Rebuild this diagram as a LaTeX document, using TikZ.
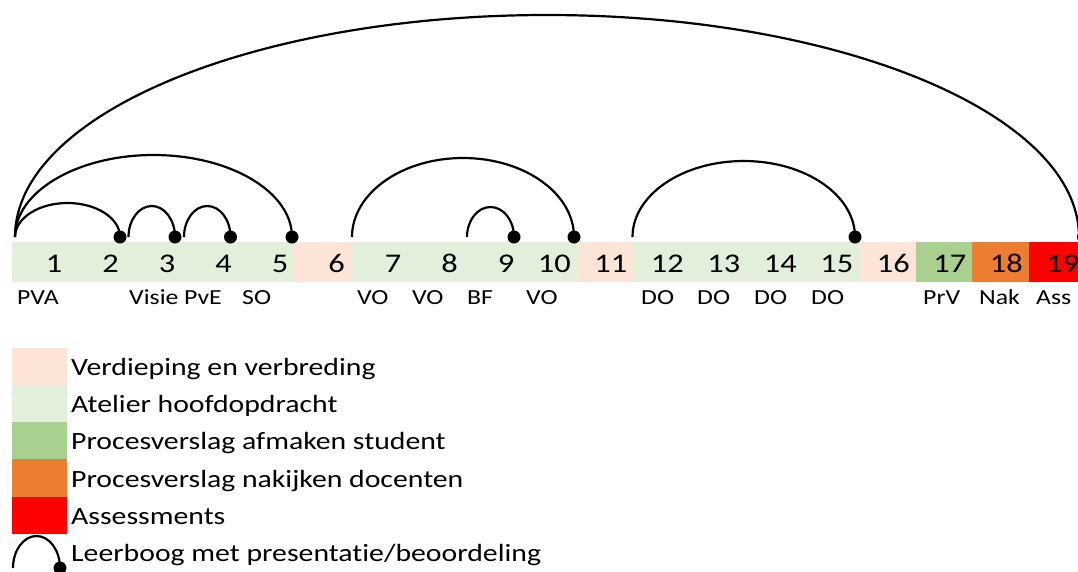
\documentclass[tikz,border=0pt]{standalone}
\usepackage{fontspec}
\setmainfont[FakeStretch=1.2, Ligatures=NoCommon]{Carlito}
\usetikzlibrary{calc}
\definecolor{verd}{HTML}{FCE4D6}
\definecolor{atel}{HTML}{E2EFDA}
\definecolor{afmk}{HTML}{A9D08E}
\definecolor{nakk}{HTML}{ED7D31}
\definecolor{asss}{HTML}{FF0000}
\tikzset{
  cell/.style={rectangle, inner sep=0pt, minimum width=57pt, minimum height=40pt, draw=none},
  numtxt/.style={inner sep=0pt, font=\fontsize{27}{30}\selectfont},
  labtxt/.style={inner sep=0pt, font=\fontsize{21.5}{24}\selectfont},
  legbox/.style={rectangle, inner sep=0pt, minimum width=55pt, minimum height=37.6pt, draw=none},
  legtxt/.style={inner sep=0pt, font=\fontsize{24.8}{28}\selectfont},
  bolldot/.style={circle, fill=black, inner sep=0pt, minimum size=13pt},
  boog/.style={draw=black, line width=2.2pt},
}
\begin{document}
\begin{tikzpicture}[x=1pt, y=-1pt]
\useasboundingbox (0,0) rectangle (1078,571);
\clip (0,0) rectangle (1078,571);
% --- timeline cells ---
\foreach \i/\c in {1/atel,2/atel,3/atel,4/atel,5/atel,6/verd,7/atel,8/atel,9/atel,10/atel,11/verd,12/atel,13/atel,14/atel,15/atel,16/verd,17/afmk,18/nakk,19/asss}{
  \node[cell, fill=\c] (c\i) at ({12+56.5*(\i-0.5)},262) {};
}
\foreach \i in {1,...,19}{
  \node[numtxt, anchor=base east] (n\i) at ($(c\i.east)+(-6.5,10)$) {\i};
}
% --- labels under cells ---
\foreach \x/\t [count=\k] in {17/PVA,129/Visie,184/PvE,242/SO,357/VO,412/VO,467/BF,526/VO,641/DO,697/DO,754/DO,811/DO,923/PrV,979/Nak,1036/Ass}{
  \node[labtxt, anchor=base west] (l\k) at (\x,304) {\t};
}
% --- start points and dots ---
\coordinate (s1) at (15,237);
\coordinate (s2) at (128.5,237);
\coordinate (s3) at (184,237);
\coordinate (s7) at (352,237);
\coordinate (s8) at (467,237);
\coordinate (s12) at (632.5,237);
\coordinate (e19) at (1079,237);
\node[bolldot] (d2) at (120,237) {};
\node[bolldot] (d3) at (175,237) {};
\node[bolldot] (d4) at (230.5,237) {};
\node[bolldot] (d5) at (292,237) {};
\node[bolldot] (d9) at (514,237) {};
\node[bolldot] (d10) at (574,237) {};
\node[bolldot] (d15) at (855,237) {};
\node[bolldot] (d19) at (1083.5,237) {};
% --- arcs ---
\draw[boog] let \p1=(s1), \p2=(e19) in (s1) arc[start angle=180, end angle=0, x radius={(\x2-\x1)/2}, y radius=222pt];
\draw[boog] let \p1=(s1), \p2=(d5) in (s1) arc[start angle=180, end angle=0, x radius={(\x2-\x1)/2}, y radius=82pt];
\draw[boog] let \p1=(s1), \p2=(d2) in (s1) arc[start angle=180, end angle=0, x radius={(\x2-\x1)/2}, y radius=34pt];
\draw[boog] let \p1=(s2), \p2=(d3) in (s2) arc[start angle=180, end angle=0, x radius={(\x2-\x1)/2}, y radius=31pt];
\draw[boog] let \p1=(s3), \p2=(d4) in (s3) arc[start angle=180, end angle=0, x radius={(\x2-\x1)/2}, y radius=31pt];
\draw[boog] let \p1=(s7), \p2=(d10) in (s7) arc[start angle=180, end angle=0, x radius={(\x2-\x1)/2}, y radius=79pt];
\draw[boog] let \p1=(s8), \p2=(d9) in (s8) arc[start angle=180, end angle=0, x radius={(\x2-\x1)/2}, y radius=30pt];
\draw[boog] let \p1=(s12), \p2=(d15) in (s12) arc[start angle=180, end angle=0, x radius={(\x2-\x1)/2}, y radius=76pt];
% --- legend ---
\foreach \c/\t [count=\k] in {verd/Verdieping en verbreding, atel/Atelier hoofdopdracht, afmk/Procesverslag afmaken student, nakk/Procesverslag nakijken docenten, asss/Assessments}{
  \node[legbox, fill=\c] (k\k) at (39.5,{348+37.2*(\k-0.5)}) {};
  \node[legtxt, anchor=base west] (t\k) at (71,{375.5+37.2*(\k-1)}) {\t};
}
\coordinate (ks) at (13,568);
\node[bolldot] (kd) at (60,568) {};
\draw[boog] let \p1=(ks), \p2=(kd) in (ks) arc[start angle=180, end angle=0, x radius={(\x2-\x1)/2}, y radius=32pt];
\node[legtxt, anchor=base west] (t6) at (71,561.5) {Leerboog met presentatie/beoordeling};
\end{tikzpicture}
\end{document}
